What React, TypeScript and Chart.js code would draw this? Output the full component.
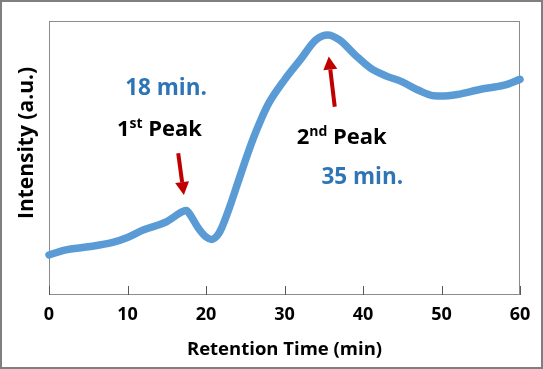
import React, { useEffect, useRef } from 'react';
import { Chart, registerables } from 'chart.js';
Chart.register(...registerables);

// Retention time (min)
const times = [0, 2, 5, 8, 10, 12, 15, 17, 17.5, 18, 19, 20, 20.7, 21.5, 22, 23, 24, 25, 26, 27, 28, 30, 32, 34, 35.5, 37, 39, 41, 43, 45, 47, 49, 50, 52, 55, 58, 60];
// Intensity (a.u.)
const intensity = [14.6, 16.4, 17.6, 19.1, 21.0, 23.7, 26.8, 30.4, 30.8, 29.2, 24.5, 21.2, 20.3, 21.9, 24.5, 32.0, 40.5, 49.0, 57.0, 64.0, 70.0, 78.5, 85.8, 93.1, 94.9, 93.1, 87.6, 82.7, 79.9, 77.8, 74.8, 72.7, 72.6, 73.2, 75.1, 76.6, 78.7];
const xTicks = [0, 10, 20, 30, 40, 50, 60];

const xTitle = 'Retention Time (min)';
const yTitle = 'Intensity (a.u.)';

// annotation texts: [main, superscript, rest]
const peak1Label = ['1', 'st', ' Peak'];
const peak2Label = ['2', 'nd', ' Peak'];
const time1Label = '18 min.';
const time2Label = '35 min.';
// anchor points in data coordinates (time, intensity)
const peak1LabelPos = [8.65, 61.1];
const peak2LabelPos = [31.55, 58.2];
const time1LabelPos = [9.7, 75.9];
const time2LabelPos = [34.7, 43.6];
const arrow1 = [[16.46, 51.7], [17.18, 36.5]];
const arrow2 = [[36.4, 68.7], [35.64, 87.0]];

const FONT = '"Open Sans", "Liberation Sans", sans-serif';
const LINE_BLUE = 'rgb(91,155,213)';
const TEXT_BLUE = 'rgb(46,117,182)';
const RED = '#C00000';

function drawArrow(ctx: CanvasRenderingContext2D, x1: number, y1: number, x2: number, y2: number) {
  const ang = Math.atan2(y2 - y1, x2 - x1);
  const headLen = 13;
  const headW = 7;
  const bx = x2 - headLen * Math.cos(ang);
  const by = y2 - headLen * Math.sin(ang);
  ctx.save();
  ctx.strokeStyle = RED;
  ctx.fillStyle = RED;
  ctx.lineWidth = 4;
  ctx.beginPath();
  ctx.moveTo(x1, y1);
  ctx.lineTo(bx, by);
  ctx.stroke();
  ctx.beginPath();
  ctx.moveTo(x2, y2);
  ctx.lineTo(bx + headW * Math.cos(ang + Math.PI / 2), by + headW * Math.sin(ang + Math.PI / 2));
  ctx.lineTo(bx + headW * Math.cos(ang - Math.PI / 2), by + headW * Math.sin(ang - Math.PI / 2));
  ctx.closePath();
  ctx.fill();
  ctx.restore();
}

function drawSupLabel(ctx: CanvasRenderingContext2D, parts: string[], x: number, y: number) {
  ctx.save();
  ctx.fillStyle = '#000';
  ctx.textBaseline = 'alphabetic';
  ctx.textAlign = 'left';
  const base = y + 8;
  ctx.font = `bold 22px ${FONT}`;
  ctx.fillText(parts[0], x, base);
  let cx = x + ctx.measureText(parts[0]).width;
  ctx.font = `bold 14px ${FONT}`;
  ctx.fillText(parts[1], cx, base - 8);
  cx += ctx.measureText(parts[1]).width;
  ctx.font = `bold 22px ${FONT}`;
  ctx.fillText(parts[2], cx, base);
  ctx.restore();
}

const decorPlugin = {
  id: 'decor',
  beforeDraw(chart: any) {
    const ctx = chart.ctx;
    ctx.save();
    ctx.fillStyle = '#fff';
    ctx.fillRect(0, 0, chart.width, chart.height);
    ctx.restore();
  },
  beforeDatasetsDraw(chart: any) {
    const ctx = chart.ctx;
    const a = chart.chartArea;
    const xs = chart.scales.x;
    ctx.save();
    ctx.strokeStyle = '#8c8c8c';
    ctx.lineWidth = 1;
    ctx.strokeRect(a.left + 0.5, a.top + 0.5, a.right - a.left - 1, a.bottom - a.top - 1);
    ctx.strokeStyle = '#595959';
    for (const t of xTicks) {
      const px = Math.round(xs.getPixelForValue(t)) + 0.5;
      ctx.beginPath();
      ctx.moveTo(px, a.bottom);
      ctx.lineTo(px, a.bottom - 9);
      ctx.stroke();
    }
    ctx.restore();
  },
  afterDraw(chart: any) {
    const ctx = chart.ctx;
    const xs = chart.scales.x;
    const ys = chart.scales.y;
    const P = (p: number[]) => [xs.getPixelForValue(p[0]), ys.getPixelForValue(p[1])];
    // y title
    ctx.save();
    ctx.translate(27.5, 143);
    ctx.rotate(-Math.PI / 2);
    ctx.font = `bold 21px ${FONT}`;
    ctx.fillStyle = '#000';
    ctx.textAlign = 'center';
    ctx.textBaseline = 'middle';
    ctx.fillText(yTitle, 0, 0);
    ctx.restore();
    // blue time labels
    ctx.save();
    ctx.font = `bold 22.5px ${FONT}`;
    ctx.fillStyle = TEXT_BLUE;
    ctx.textAlign = 'left';
    ctx.textBaseline = 'alphabetic';
    let p = P(time1LabelPos);
    ctx.fillText(time1Label, p[0], p[1] + 8);
    p = P(time2LabelPos);
    ctx.fillText(time2Label, p[0], p[1] + 8);
    ctx.restore();
    // peak labels
    p = P(peak1LabelPos);
    drawSupLabel(ctx, peak1Label, p[0], p[1]);
    p = P(peak2LabelPos);
    drawSupLabel(ctx, peak2Label, p[0], p[1]);
    // arrows
    let t = P(arrow1[0]);
    let h = P(arrow1[1]);
    drawArrow(ctx, t[0], t[1], h[0], h[1]);
    t = P(arrow2[0]);
    h = P(arrow2[1]);
    drawArrow(ctx, t[0], t[1], h[0], h[1]);
    // outer frame
    ctx.save();
    ctx.strokeStyle = '#7f7f7f';
    ctx.lineWidth = 2;
    ctx.strokeRect(1, 1, chart.width - 2, chart.height - 2);
    ctx.restore();
  },
};

export default function App() {
  const ref = useRef<HTMLCanvasElement>(null);
  useEffect(() => {
    document.body.style.margin = '0';
    const chart = new Chart(ref.current!, {
      type: 'line',
      data: {
        datasets: [
          {
            data: times.map((t, i) => ({ x: t, y: intensity[i] })),
            borderColor: LINE_BLUE,
            borderWidth: 7.5,
            pointRadius: 0,
            cubicInterpolationMode: 'monotone',
            borderCapStyle: 'round',
            borderJoinStyle: 'round',
            clip: 6,
          } as any,
        ],
      },
      options: {
        responsive: false,
        animation: false,
        layout: { padding: { left: 0, top: 21, right: 23, bottom: 0 } },
        plugins: { legend: { display: false }, tooltip: { enabled: false } },
        scales: {
          x: {
            type: 'linear',
            min: 0,
            max: 60,
            afterFit: (s: any) => { s.height = 74; },
            afterBuildTicks: (s: any) => { s.ticks = xTicks.map((v) => ({ value: v })); },
            grid: { display: false, drawTicks: false },
            border: { display: false },
            ticks: { color: '#000', font: { family: FONT, weight: 'bold', size: 18 }, padding: 9, maxRotation: 0 },
            title: { display: true, text: xTitle, color: '#000', font: { family: FONT, weight: 'bold', size: 18.5 }, padding: { top: 0, bottom: 8 } },
          },
          y: {
            min: 0,
            max: 100,
            afterFit: (s: any) => { s.width = 49; },
            grid: { display: false, drawTicks: false },
            border: { display: false },
            ticks: { display: false },
          },
        },
      } as any,
      plugins: [decorPlugin],
    });
    return () => chart.destroy();
  }, []);
  return (
    <div style={{ width: 543, height: 369 }}>
      <canvas ref={ref} width={543} height={369} />
    </div>
  );
}
